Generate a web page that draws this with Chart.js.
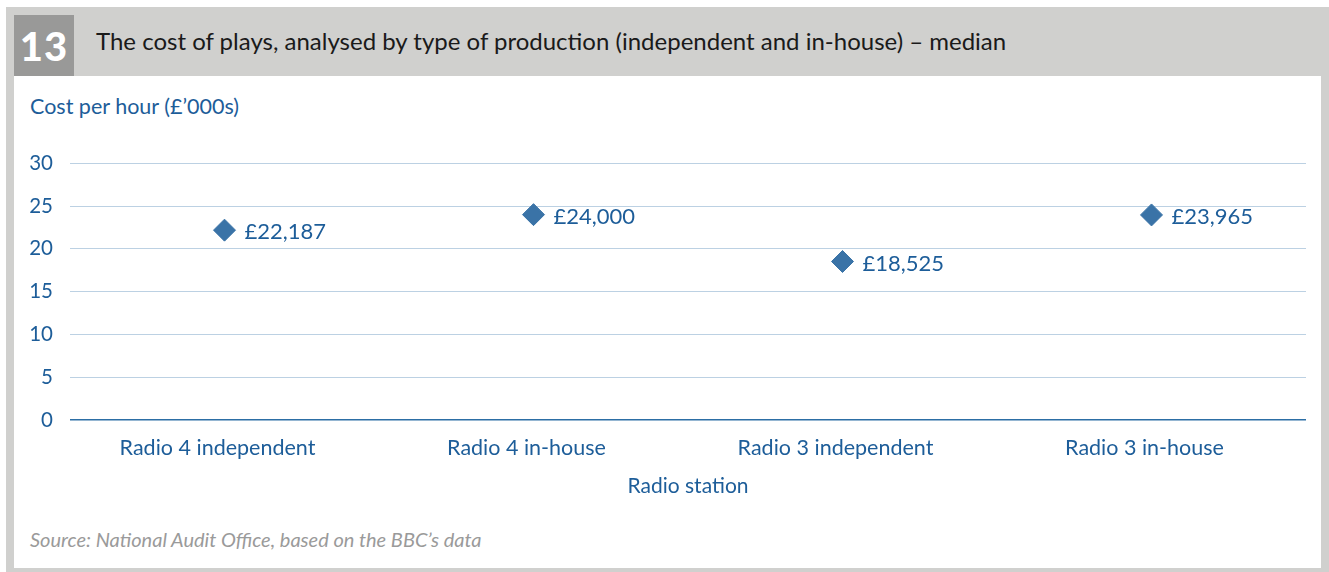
<!DOCTYPE html>
<html>
<head>
<meta charset="utf-8">
<script src="https://cdn.jsdelivr.net/npm/chart.js@4"></script>
<style>
  body { margin: 0; background: #fff; font-family: Lato, "Open Sans", sans-serif; }
  #frame { position: absolute; left: 6px; top: 7px; width: 1323px; height: 565px; background: #d0d0ce; }
  #inner { position: absolute; left: 14px; top: 76px; width: 1307px; height: 492px; background: #fff; }
  #num { position: absolute; left: 14px; top: 15px; width: 60px; height: 61px; background: #999998;
         color: #fff; font-weight: 900; font-size: 40px; line-height: 63px; text-align: center; letter-spacing: 1px; }
  #title { position: absolute; left: 96px; top: 26px; font-size: 24px; color: #1a1a1a; white-space: nowrap; }
  #ylab { position: absolute; left: 30px; top: 93px; font-size: 21.5px; color: #1d5d99; }
  #src { position: absolute; left: 30px; top: 527px; font-size: 20px; color: #9a9a9a; font-style: italic; }
  #wrap { position: absolute; left: 14px; top: 134px; width: 1306px; height: 376px; }
</style>
</head>
<body>
<div id="frame"></div>
<div id="inner"></div>
<div id="num">13</div>
<div id="title">The cost of plays, analysed by type of production (independent and in-house) – median</div>
<div id="ylab">Cost per hour (£’000s)</div>
<div id="src">Source: National Audit Office, based on the BBC’s data</div>
<div id="wrap"><canvas id="chart"></canvas></div>
<script>
// === DATA ===
const categories = ["Radio 4 independent", "Radio 4 in-house", "Radio 3 independent", "Radio 3 in-house"];
const medianCost = [22.187, 24.0, 18.525, 23.965];
const costLabels = ["£22,187", "£24,000", "£18,525", "£23,965"];
const yTicks = [0, 5, 10, 15, 20, 25, 30];

const BLUE = "#1d5d99";
const FONT = "Lato, 'Open Sans', sans-serif";

// labels to the right of each point
const pointLabels = {
  id: "pointLabels",
  afterDatasetsDraw(chart) {
    const ctx = chart.ctx;
    const meta = chart.getDatasetMeta(0);
    ctx.save();
    ctx.font = "22px " + FONT;
    ctx.fillStyle = BLUE;
    ctx.textBaseline = "middle";
    meta.data.forEach((pt, i) => {
      ctx.fillText(costLabels[i], pt.x + 20, pt.y + 2);
    });
    ctx.restore();
  }
};

new Chart(document.getElementById("chart"), {
  type: "line",
  data: {
    labels: categories,
    datasets: [{
      data: medianCost,
      showLine: false,
      pointStyle: "rectRot",
      pointRadius: 11,
      pointHoverRadius: 11,
      pointBackgroundColor: "#3a73a7",
      pointBorderColor: "#3a73a7",
      pointBorderWidth: 1
    }]
  },
  options: {
    responsive: true,
    maintainAspectRatio: false,
    animation: false,
    layout: { padding: { top: 16, right: 14, left: 0, bottom: 0 } },
    plugins: { legend: { display: false }, tooltip: { enabled: false } },
    scales: {
      x: {
        offset: true,
        grid: { display: false, drawTicks: false },
        border: { display: false },
        ticks: { color: BLUE, font: { family: FONT, size: 21.5 }, padding: 15, maxRotation: 0, labelOffset: -7 },
        title: { display: true, text: "Radio station", color: BLUE, font: { family: FONT, size: 21 }, padding: { top: 0, bottom: 11 } },
        afterFit: s => { s.height = 90; }
      },
      y: {
        min: 0, max: 30,
        afterBuildTicks: s => { s.ticks = yTicks.map(v => ({ value: v })); },
        grid: {
          drawTicks: false,
          color: c => c.tick && c.tick.value === 0 ? "#2c6ea5" : "#bcd1e3",
          lineWidth: c => c.tick && c.tick.value === 0 ? 1.5 : 1
        },
        border: { display: false },
        ticks: { color: BLUE, font: { family: FONT, size: 20.5 }, padding: 17 },
        afterFit: s => { s.width = 56; }
      }
    }
  },
  plugins: [pointLabels]
});
</script>
</body>
</html>
